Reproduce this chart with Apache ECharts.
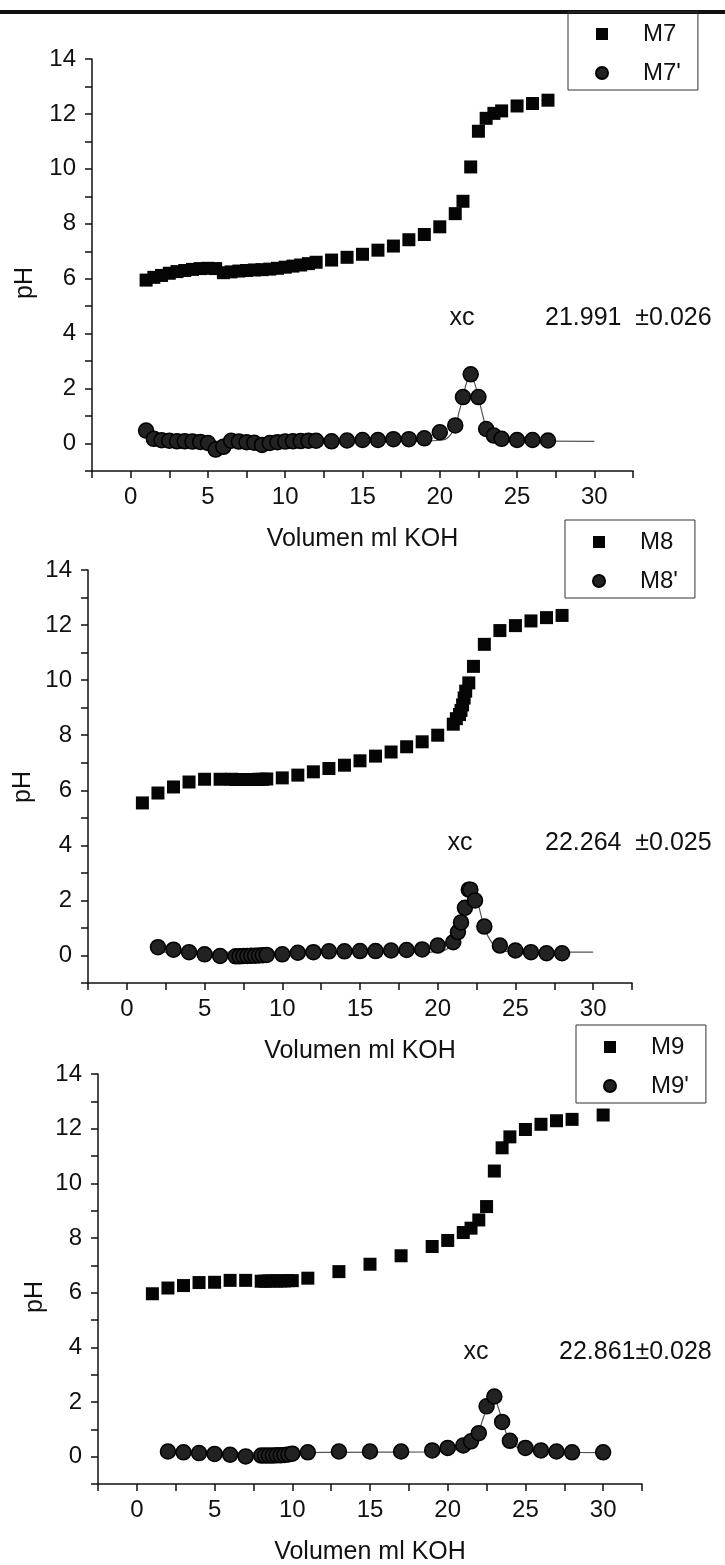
<!DOCTYPE html>
<html>
<head>
<meta charset="utf-8">
<script src="https://cdn.jsdelivr.net/npm/echarts@6/dist/echarts.min.js"></script>
<style>
    html, body {margin: 0; padding: 0; background: #fff;}
    #box {width: 725px; height: 1565px;}
</style>
</head>
<body>
<div id="box"></div>
<script>
//M7 titration
var x7 = [1, 1.5, 2, 2.5, 3, 3.5, 4, 4.5, 5, 5.5, 6, 6.5, 7, 7.5, 8, 8.5, 9, 9.5, 10, 10.5, 11, 11.5, 12, 13, 14, 15, 16, 17, 18, 19, 20, 21, 21.5, 22, 22.5, 23, 23.5, 24, 25, 26, 27];
var ph7 = [5.95, 6.05, 6.12, 6.2, 6.26, 6.3, 6.34, 6.37, 6.38, 6.37, 6.22, 6.25, 6.28, 6.3, 6.32, 6.33, 6.35, 6.38, 6.42, 6.46, 6.5, 6.55, 6.6, 6.68, 6.78, 6.89, 7.04, 7.19, 7.42, 7.61, 7.89, 8.37, 8.82, 10.07, 11.37, 11.84, 12.02, 12.11, 12.29, 12.38, 12.5];
var d7 = [0.47, 0.17, 0.12, 0.1, 0.08, 0.08, 0.07, 0.06, 0.02, -0.22, -0.12, 0.1, 0.07, 0.05, 0.03, -0.05, 0.02, 0.05, 0.07, 0.08, 0.09, 0.1, 0.1, 0.08, 0.11, 0.13, 0.13, 0.16, 0.16, 0.19, 0.41, 0.66, 1.69, 2.52, 1.69, 0.53, 0.29, 0.17, 0.13, 0.13, 0.11];
var fitX7 = [1, 19, 20, 20.5, 21, 21.25, 21.5, 21.75, 22, 22.25, 22.5, 22.75, 23, 23.5, 24, 25, 30];
var fitY7 = [0.08, 0.09, 0.12, 0.2, 0.62, 1.15, 1.68, 2.25, 2.45, 2.2, 1.68, 1.1, 0.6, 0.2, 0.11, 0.09, 0.08];

//M8 titration
var x8 = [1, 2, 3, 4, 5, 6, 6.75, 7, 7.25, 7.5, 7.75, 8, 8.25, 8.5, 8.75, 9, 10, 11, 12, 13, 14, 15, 16, 17, 18, 19, 20, 21, 21.2, 21.4, 21.5, 21.6, 21.7, 21.8, 22, 22.3, 23, 24, 25, 26, 27, 28];
var ph8 = [5.54, 5.9, 6.12, 6.3, 6.4, 6.4, 6.4, 6.39, 6.39, 6.39, 6.39, 6.39, 6.39, 6.4, 6.4, 6.41, 6.45, 6.55, 6.67, 6.79, 6.91, 7.07, 7.24, 7.39, 7.58, 7.76, 8.0, 8.4, 8.6, 8.75, 8.9, 9.1, 9.35, 9.6, 9.9, 10.5, 11.3, 11.8, 11.98, 12.15, 12.27, 12.35];
var xd8 = [2, 3, 4, 5, 6, 7, 7.25, 7.5, 7.75, 8, 8.25, 8.5, 8.75, 9, 10, 11, 12, 13, 14, 15, 16, 17, 18, 19, 20, 21, 21.3, 21.5, 21.75, 22, 22.1, 22.4, 23, 24, 25, 26, 27, 28];
var d8 = [0.3, 0.21, 0.12, 0.04, -0.02, -0.03, -0.03, -0.02, -0.02, -0.01, -0.01, 0, 0.01, 0.02, 0.04, 0.1, 0.12, 0.15, 0.15, 0.16, 0.16, 0.18, 0.2, 0.22, 0.36, 0.48, 0.85, 1.2, 1.73, 2.39, 2.39, 2.0, 1.05, 0.36, 0.18, 0.12, 0.08, 0.08];
var fitX8 = [2, 19, 20, 20.5, 21, 21.25, 21.5, 21.75, 22, 22.25, 22.5, 22.75, 23, 23.5, 24, 25, 30];
var fitY8 = [0.12, 0.12, 0.14, 0.2, 0.42, 0.75, 1.2, 1.7, 2.15, 2.3, 2.05, 1.55, 1.0, 0.45, 0.2, 0.13, 0.12];

//M9 titration
var x9 = [1, 2, 3, 4, 5, 6, 7, 8, 8.25, 8.5, 8.75, 9, 9.25, 9.5, 9.75, 10, 11, 13, 15, 17, 19, 20, 21, 21.5, 22, 22.5, 23, 23.5, 24, 25, 26, 27, 28, 30];
var ph9 = [5.96, 6.17, 6.26, 6.37, 6.38, 6.45, 6.45, 6.42, 6.42, 6.43, 6.43, 6.43, 6.43, 6.43, 6.44, 6.44, 6.53, 6.77, 7.04, 7.35, 7.69, 7.91, 8.2, 8.36, 8.66, 9.15, 10.45, 11.3, 11.7, 11.97, 12.16, 12.29, 12.34, 12.5];
var xd9 = [2, 3, 4, 5, 6, 7, 8, 8.25, 8.5, 8.75, 9, 9.25, 9.5, 9.75, 10, 11, 13, 15, 17, 19, 20, 21, 21.5, 22, 22.5, 23, 23.5, 24, 25, 26, 27, 28, 30];
var d9 = [0.19, 0.16, 0.13, 0.1, 0.07, 0.01, 0.04, 0.04, 0.04, 0.04, 0.05, 0.05, 0.06, 0.08, 0.11, 0.16, 0.19, 0.19, 0.19, 0.23, 0.32, 0.41, 0.56, 0.86, 1.84, 2.2, 1.27, 0.58, 0.32, 0.23, 0.19, 0.16, 0.16];
var fitX9 = [2, 11, 13, 19, 20, 21, 21.5, 22, 22.25, 22.5, 22.75, 23, 23.25, 23.5, 24, 25, 26, 30];
var fitY9 = [0.13, 0.15, 0.16, 0.17, 0.2, 0.32, 0.5, 0.95, 1.35, 1.75, 2.05, 2.1, 1.8, 1.35, 0.6, 0.22, 0.17, 0.15];

var xTitle = 'Volumen ml KOH';
var yTitle = 'pH';
var xcText = ['21.991  \u00b10.026', '22.264  \u00b10.025', '22.861\u00b10.028'];

var FONT = '"Liberation Sans", Arial, sans-serif';

function zip(xs, ys) {
    var out = [];
    for (var i = 0; i < xs.length; i++) {
        out.push([xs[i], ys[i]]);
    }
    return out;
}

//panel boxes in px
var grids = [
    {left: 92, top: 59, width: 541, height: 412},
    {left: 88, top: 570, width: 544, height: 413},
    {left: 98, top: 1074, width: 544, height: 410}
];

var xAxes = [], yAxes = [];
grids.forEach(function (g, i) {
    xAxes.push({
        gridIndex: i,
        type: 'value',
        min: -2.5,
        max: 32.5,
        interval: 2.5,
        name: xTitle,
        nameLocation: 'middle',
        nameGap: 56,
        nameTextStyle: {fontSize: 25, color: '#111', fontFamily: FONT},
        axisLine: {show: true, onZero: false, lineStyle: {color: '#111', width: 1.5}},
        axisTick: {show: true, length: 7, lineStyle: {color: '#111', width: 1.5}},
        axisLabel: {
            fontSize: 24, color: '#111', fontFamily: FONT, margin: 14,
            formatter: function (v) {
                return (v % 5 === 0) ? String(v) : '';
            }
        },
        splitLine: {show: false}
    });
    yAxes.push({
        gridIndex: i,
        type: 'value',
        min: -1,
        max: 14,
        interval: 1,
        axisLine: {show: true, onZero: false, lineStyle: {color: '#111', width: 1.5}},
        axisTick: {show: true, length: 7, lineStyle: {color: '#111', width: 1.5}},
        axisLabel: {
            fontSize: 24, color: '#111', fontFamily: FONT, margin: 16,
            formatter: function (v) {
                return (v % 2 === 0) ? String(v) : '';
            }
        },
        splitLine: {show: false}
    });
});

function fitSeries(i, xs, ys) {
    return {
        name: 'fit' + i,
        type: 'line',
        xAxisIndex: i,
        yAxisIndex: i,
        smooth: 0.4,
        showSymbol: false,
        silent: true,
        lineStyle: {color: '#555', width: 1.2},
        data: zip(xs, ys),
        z: 1
    };
}

function squareSeries(i, name, xs, ys) {
    return {
        name: name,
        type: 'scatter',
        xAxisIndex: i,
        yAxisIndex: i,
        symbol: 'rect',
        symbolSize: 13,
        itemStyle: {color: '#050505', opacity: 1},
        data: zip(xs, ys),
        z: 3
    };
}

function circleSeries(i, name, xs, ys) {
    return {
        name: name,
        type: 'scatter',
        xAxisIndex: i,
        yAxisIndex: i,
        symbol: 'circle',
        symbolSize: 15,
        itemStyle: {color: '#222', borderColor: '#000', borderWidth: 1.5, opacity: 1},
        data: zip(xs, ys),
        z: 2
    };
}

function legendBox(names, left, top) {
    return {
        data: names,
        orient: 'vertical',
        left: left,
        top: top,
        padding: [10, 17, 5, 27],
        itemGap: 15,
        itemWidth: 12,
        itemHeight: 12,
        borderColor: '#333',
        borderWidth: 1,
        selectedMode: false,
        textStyle: {fontSize: 24, color: '#111', fontFamily: FONT, padding: [0, 0, 0, 30]}
    };
}

function txt(x, y, s, align, rot) {
    return {
        type: 'text',
        x: x,
        y: y,
        rotation: rot || 0,
        style: {
            text: s,
            fontSize: 25,
            fontFamily: FONT,
            fill: '#111',
            align: align || 'left',
            verticalAlign: 'middle'
        }
    };
}

var chart = echarts.init(document.getElementById('box'));
var option = {
    backgroundColor: '#fff',
    animation: false,
    grid: grids.map(function (g) {
        return {left: g.left, top: g.top, width: g.width, height: g.height, containLabel: false, outerBoundsMode: 'none'};
    }),
    xAxis: xAxes,
    yAxis: yAxes,
    legend: [
        legendBox(['M7', "M7'"], 568, 12),
        legendBox(['M8', "M8'"], 565, 520),
        legendBox(['M9', "M9'"], 576, 1025)
    ],
    graphic: [
        {type: 'rect', shape: {x: 0, y: 10, width: 725, height: 4}, style: {fill: '#111'}},
        txt(462, 318, 'xc', 'center'),
        txt(545, 318, xcText[0]),
        txt(460, 843, 'xc', 'center'),
        txt(545, 843, xcText[1]),
        txt(476, 1352, 'xc', 'center'),
        txt(559, 1352, xcText[2]),
        txt(25, 283, yTitle, 'center', Math.PI / 2),
        txt(23, 787, yTitle, 'center', Math.PI / 2),
        txt(35, 1297, yTitle, 'center', Math.PI / 2)
    ],
    series: [
        fitSeries(0, fitX7, fitY7),
        squareSeries(0, 'M7', x7, ph7),
        circleSeries(0, "M7'", x7, d7),
        fitSeries(1, fitX8, fitY8),
        squareSeries(1, 'M8', x8, ph8),
        circleSeries(1, "M8'", xd8, d8),
        fitSeries(2, fitX9, fitY9),
        squareSeries(2, 'M9', x9, ph9),
        circleSeries(2, "M9'", xd9, d9)
    ]
};
chart.setOption(option);
</script>
</body>
</html>
